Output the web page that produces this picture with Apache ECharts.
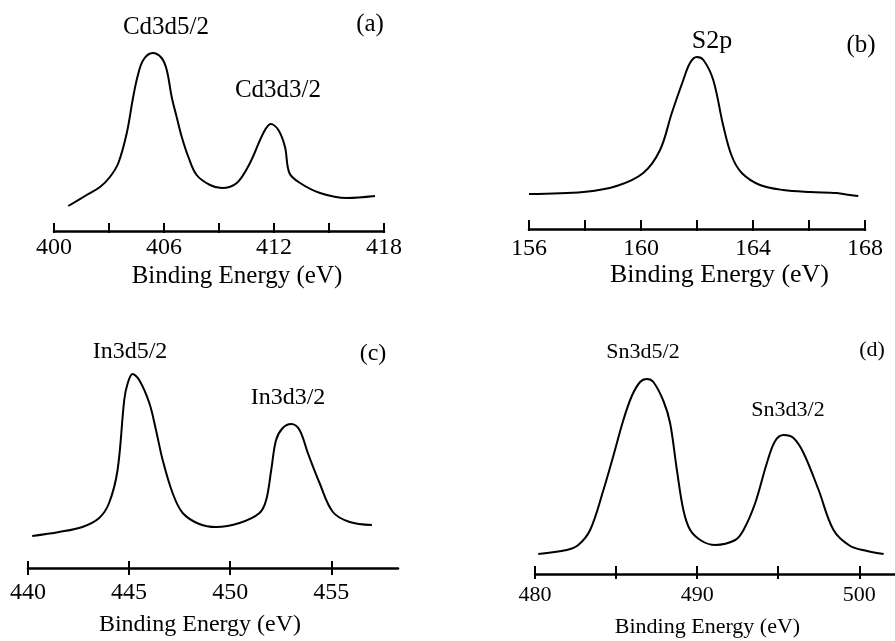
<!DOCTYPE html>
<html>
<head>
<meta charset="utf-8">
<script src="https://cdn.jsdelivr.net/npm/echarts/dist/echarts.min.js"></script>
<style>
  html, body { margin: 0; padding: 0; background: #fff; }
  #chart { width: 895px; height: 641px; }
</style>
</head>
<body>
<div id="chart"></div>
<script>
// ---------- DATA ----------
// (a) Cd 3d
const aEnergy = [400.78, 401.78, 402.51, 403.05, 403.51, 403.97, 404.29, 404.55, 404.87, 405.38, 405.87, 406.15, 406.42, 406.69, 406.97, 407.33, 407.78, 408.51, 409.15, 409.97, 410.69, 411.42, 411.82, 412.24, 412.60, 412.84, 413.42, 414.51, 415.97, 417.51];
const aIntensity = [25, 36, 44, 54, 68, 98, 131, 154, 171, 178, 173, 161, 134, 114, 94, 74, 56, 46, 43, 48, 68, 98, 107, 101, 84, 58, 48, 38, 33, 35];
const aTicks = [400, 403, 406, 409, 412, 415, 418];
const aTickLabels = [400, 406, 412, 418];
const aPeaks = ['Cd3d5/2', 'Cd3d3/2'];

// (b) S 2p
const bEnergy = [156.0, 157.94, 159.13, 160.08, 160.68, 161.10, 161.51, 161.75, 161.99, 162.23, 162.58, 162.94, 163.24, 163.60, 164.25, 165.08, 166.04, 166.99, 167.46, 167.76];
const bIntensity = [35, 37, 43, 56, 79, 116, 149, 166, 172, 169, 149, 103, 73, 56, 44, 39, 37, 36, 34, 33];
const bTicks = [156, 158, 160, 162, 164, 166, 168];
const bTickLabels = [156, 160, 164, 168];
const bPeaks = ['S2p'];

// (c) In 3d
const cEnergy = [440.21, 441.54, 442.69, 443.52, 444.01, 444.43, 444.76, 444.92, 445.17, 445.50, 446.00, 446.33, 446.66, 447.15, 447.65, 448.47, 449.30, 450.46, 451.45, 451.78, 452.03, 452.27, 452.60, 453.02, 453.43, 453.84, 454.42, 455.08, 455.91, 457.01];
const cIntensity = [32, 36, 41, 50, 65, 98, 168, 184, 194, 188, 165, 138, 108, 75, 55, 44, 41, 45, 55, 68, 98, 128, 140, 144, 138, 115, 85, 56, 46, 43];
const cTicks = [440, 445, 450, 455];
const cTickLabels = [440, 445, 450, 455];
const cPeaks = ['In3d5/2', 'In3d3/2'];

// (d) Sn 3d
const dEnergy = [480.20, 481.96, 482.67, 483.40, 484.22, 484.83, 485.45, 485.97, 486.48, 486.90, 487.30, 487.92, 488.33, 488.75, 489.15, 489.57, 490.29, 491.11, 492.35, 492.86, 493.58, 494.30, 494.81, 495.33, 495.94, 496.56, 497.49, 498.41, 499.44, 500.48, 501.50];
const dIntensity = [20, 24, 29, 44, 84, 118, 154, 178, 192, 195, 192, 173, 151, 104, 64, 44, 33, 29, 34, 44, 71, 111, 133, 139, 136, 121, 84, 44, 28, 23, 20];
const dTicks = [480, 485, 490, 495, 500];
const dTickLabels = [480, 490, 500];
const dPeaks = ['Sn3d5/2', 'Sn3d3/2'];

const axisTitle = 'Binding Energy (eV)';
const panelTags = ['(a)', '(b)', '(c)', '(d)'];

// ---------- OPTION ----------
const FONT = "'Liberation Serif', 'Times New Roman', serif";
const zip = (xs, ys) => xs.map((x, k) => [x, ys[k]]);

const panels = [
  { e: aEnergy, v: aIntensity, ticks: aTicks, labels: aTickLabels, min: 400, max: 418,
    grid: { left: 54, width: 330, top: 31, height: 200 },
    labelSize: 24, labelMargin: 5, nameSize: 25, nameGap: 33, namePad: [0, 0, 0, 36],
    tickIn: 8, tickOut: 2 },
  { e: bEnergy, v: bIntensity, ticks: bTicks, labels: bTickLabels, min: 156, max: 168,
    grid: { left: 529, width: 336, top: 29, height: 200 },
    labelSize: 24, labelMargin: 8, nameSize: 26, nameGap: 33, namePad: [0, 0, 0, 45],
    tickIn: 9, tickOut: 2 },
  { e: cEnergy, v: cIntensity, ticks: cTicks, labels: cTickLabels, min: 440, max: 458.3,
    grid: { left: 28, width: 370, top: 368, height: 200 },
    labelSize: 24, labelMargin: 13, nameSize: 24, nameGap: 45, namePad: [0, 26, 0, 0],
    tickIn: 7, tickOut: 7 },
  { e: dEnergy, v: dIntensity, ticks: dTicks, labels: dTickLabels, min: 480, max: 502.2,
    grid: { left: 535, width: 360, top: 374, height: 200 },
    labelSize: 22, labelMargin: 10, nameSize: 22, nameGap: 42, namePad: [0, 15, 0, 0],
    tickIn: 8, tickOut: 5 }
];

const grids = [], xAxes = [], xAxes2 = [], yAxes = [], series = [];
panels.forEach((p, k) => {
  grids.push(Object.assign({ containLabel: false }, p.grid));
  xAxes.push({
    type: 'value', gridIndex: k, min: p.min, max: p.max, position: 'bottom',
    name: axisTitle, nameLocation: 'middle', nameGap: p.nameGap,
    nameTextStyle: { fontFamily: FONT, fontSize: p.nameSize, color: '#000', padding: p.namePad },
    axisLine: { show: true, onZero: false, lineStyle: { color: '#000', width: 2.5 } },
    axisTick: { show: true, inside: true, length: p.tickIn, customValues: p.ticks,
                lineStyle: { color: '#000', width: 2 } },
    axisLabel: { show: true, customValues: p.labels, margin: p.labelMargin,
                 fontFamily: FONT, fontSize: p.labelSize, color: '#000' },
    splitLine: { show: false }
  });
  xAxes2.push({
    type: 'value', gridIndex: k, min: p.min, max: p.max, position: 'bottom',
    axisLine: { show: false, onZero: false },
    axisTick: { show: true, inside: false, length: p.tickOut, customValues: p.ticks,
                lineStyle: { color: '#000', width: 2 } },
    axisLabel: { show: false },
    splitLine: { show: false }
  });
  yAxes.push({ type: 'value', gridIndex: k, min: 0, max: 200, show: false,
               splitLine: { show: false } });
  series.push({
    type: 'line', xAxisIndex: k, yAxisIndex: k, data: zip(p.e, p.v),
    smooth: 0.35, showSymbol: false, symbol: 'none',
    lineStyle: { color: '#000', width: 2 }, silent: true, animation: false
  });
});

function txt(x, y, s, size) {
  return { type: 'text', x: x, y: y, silent: true,
    style: { text: s, fill: '#000', font: size + 'px ' + FONT, align: 'center', verticalAlign: 'middle' } };
}

const graphics = [
  txt(166, 27, aPeaks[0], 25), txt(278, 90, aPeaks[1], 25), txt(370, 24, panelTags[0], 25),
  txt(712, 41, bPeaks[0], 26), txt(861, 45, panelTags[1], 25),
  txt(130, 352, cPeaks[0], 24), txt(288, 398, cPeaks[1], 24), txt(373, 354, panelTags[2], 24),
  txt(643, 352, dPeaks[0], 22), txt(788, 410, dPeaks[1], 22), txt(872, 350, panelTags[3], 22)
];

const chart = echarts.init(document.getElementById('chart'), null, { renderer: 'canvas' });
chart.setOption({
  animation: false,
  backgroundColor: '#fff',
  grid: grids,
  xAxis: xAxes.concat(xAxes2),
  yAxis: yAxes,
  series: series,
  graphic: graphics
});
</script>
</body>
</html>
